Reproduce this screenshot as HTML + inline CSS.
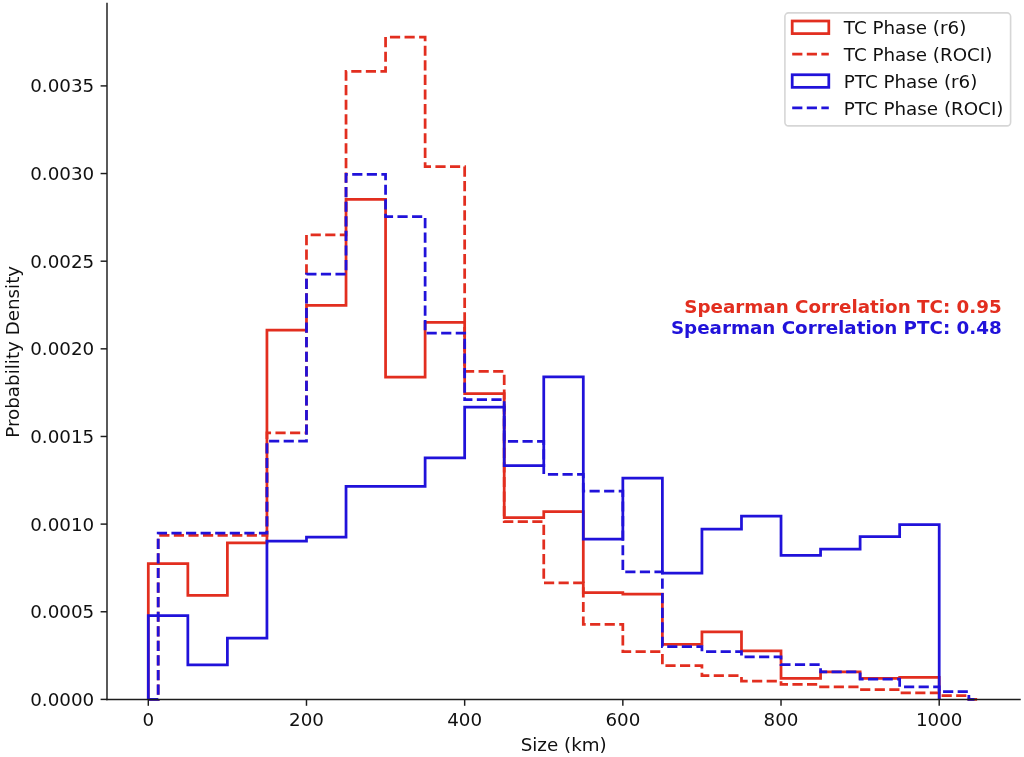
<!DOCTYPE html>
<html lang="en">
<head>
<meta charset="utf-8">
<title>Size distribution: TC vs PTC phase</title>
<style>
html, body { margin: 0; padding: 0; background: #ffffff; }
body { width: 1024px; height: 757px; overflow: hidden; font-family: "DejaVu Sans", "Liberation Sans", sans-serif; }
svg { display: block; }
</style>
</head>
<body>
<svg width="1024" height="757" viewBox="0 0 1024 757">
<rect width="1024" height="757" fill="#ffffff"/>
<g fill="none" stroke-linejoin="miter" stroke-linecap="butt" stroke-width="2.75">
<path d="M148.30,699.40 L148.30,563.70 L187.85,563.70 L187.85,595.30 L227.39,595.30 L227.39,542.80 L266.94,542.80 L266.94,330.20 L306.48,330.20 L306.48,305.30 L346.03,305.30 L346.03,199.40 L385.57,199.40 L385.57,377.10 L425.12,377.10 L425.12,322.30 L464.66,322.30 L464.66,393.50 L504.21,393.50 L504.21,517.50 L543.75,517.50 L543.75,511.70 L583.30,511.70 L583.30,592.70 L622.84,592.70 L622.84,594.20 L662.38,594.20 L662.38,644.40 L701.93,644.40 L701.93,631.90 L741.48,631.90 L741.48,650.80 L781.02,650.80 L781.02,678.40 L820.57,678.40 L820.57,671.80 L860.11,671.80 L860.11,678.40 L899.65,678.40 L899.65,677.30 L939.20,677.30 L939.20,699.40" stroke="#e22e1f"/>
<path d="M148.30,699.40 L158.19,699.40 L158.19,535.40 L266.94,535.40 L266.94,432.90 L306.48,432.90 L306.48,234.80 L346.03,234.80 L346.03,71.30 L385.57,71.30 L385.57,37.10 L425.12,37.10 L425.12,166.60 L464.66,166.60 L464.66,371.30 L504.21,371.30 L504.21,521.70 L543.75,521.70 L543.75,582.90 L583.30,582.90 L583.30,624.30 L622.84,624.30 L622.84,651.70 L662.38,651.70 L662.38,665.60 L701.93,665.60 L701.93,675.60 L741.48,675.60 L741.48,681.00 L781.02,681.00 L781.02,684.40 L820.57,684.40 L820.57,686.80 L860.11,686.80 L860.11,689.60 L899.65,689.60 L899.65,692.80 L939.20,692.80 L939.20,695.60 L968.86,695.60 L968.86,699.40 L978.75,699.40" stroke="#e22e1f" stroke-dasharray="10.18 4.40"/>
<path d="M148.30,699.40 L148.30,615.60 L187.85,615.60 L187.85,664.80 L227.39,664.80 L227.39,638.20 L266.94,638.20 L266.94,541.10 L306.48,541.10 L306.48,537.10 L346.03,537.10 L346.03,486.30 L385.57,486.30 L425.12,486.30 L425.12,457.90 L464.66,457.90 L464.66,407.10 L504.21,407.10 L504.21,465.50 L543.75,465.50 L543.75,376.90 L583.30,376.90 L583.30,539.00 L622.84,539.00 L622.84,478.20 L662.38,478.20 L662.38,573.00 L701.93,573.00 L701.93,529.00 L741.48,529.00 L741.48,516.20 L781.02,516.20 L781.02,555.30 L820.57,555.30 L820.57,549.10 L860.11,549.10 L860.11,536.50 L899.65,536.50 L899.65,524.50 L939.20,524.50 L939.20,699.40" stroke="#2012da"/>
<path d="M148.30,699.40 L158.19,699.40 L158.19,533.00 L266.94,533.00 L266.94,441.10 L306.48,441.10 L306.48,274.20 L346.03,274.20 L346.03,174.30 L385.57,174.30 L385.57,216.50 L425.12,216.50 L425.12,333.20 L464.66,333.20 L464.66,399.60 L504.21,399.60 L504.21,441.40 L543.75,441.40 L543.75,474.30 L583.30,474.30 L583.30,491.00 L622.84,491.00 L622.84,571.90 L662.38,571.90 L662.38,646.60 L701.93,646.60 L701.93,651.50 L741.48,651.50 L741.48,656.80 L781.02,656.80 L781.02,664.70 L820.57,664.70 L820.57,671.80 L860.11,671.80 L860.11,679.10 L899.65,679.10 L899.65,686.80 L939.20,686.80 L939.20,691.50 L968.86,691.50 L968.86,699.40 L978.75,699.40" stroke="#2012da" stroke-dasharray="10.18 4.40"/>
</g>
<g stroke="#1c1c1c" stroke-width="1.46" fill="none" stroke-linecap="square">
<line x1="107.0" y1="3.5" x2="107.0" y2="699.4"/>
<line x1="107.0" y1="699.4" x2="1020.0" y2="699.4"/>
</g>
<g stroke="#1c1c1c" stroke-width="1.46" stroke-linecap="butt">
<line x1="148.30" y1="699.4" x2="148.30" y2="705.8"/>
<line x1="306.48" y1="699.4" x2="306.48" y2="705.8"/>
<line x1="464.66" y1="699.4" x2="464.66" y2="705.8"/>
<line x1="622.84" y1="699.4" x2="622.84" y2="705.8"/>
<line x1="781.02" y1="699.4" x2="781.02" y2="705.8"/>
<line x1="939.20" y1="699.4" x2="939.20" y2="705.8"/>
<line x1="100.6" y1="699.40" x2="107.0" y2="699.40"/>
<line x1="100.6" y1="611.76" x2="107.0" y2="611.76"/>
<line x1="100.6" y1="524.11" x2="107.0" y2="524.11"/>
<line x1="100.6" y1="436.47" x2="107.0" y2="436.47"/>
<line x1="100.6" y1="348.83" x2="107.0" y2="348.83"/>
<line x1="100.6" y1="261.19" x2="107.0" y2="261.19"/>
<line x1="100.6" y1="173.54" x2="107.0" y2="173.54"/>
<line x1="100.6" y1="85.90" x2="107.0" y2="85.90"/>
</g>
<g font-family="'DejaVu Sans', 'Liberation Sans', sans-serif" font-size="18.3px" fill="#101010">
<text x="148.30" y="725.8" text-anchor="middle">0</text>
<text x="306.48" y="725.8" text-anchor="middle">200</text>
<text x="464.66" y="725.8" text-anchor="middle">400</text>
<text x="622.84" y="725.8" text-anchor="middle">600</text>
<text x="781.02" y="725.8" text-anchor="middle">800</text>
<text x="939.20" y="725.8" text-anchor="middle">1000</text>
<text x="94.20" y="705.80" text-anchor="end">0.0000</text>
<text x="94.20" y="618.16" text-anchor="end">0.0005</text>
<text x="94.20" y="530.51" text-anchor="end">0.0010</text>
<text x="94.20" y="442.87" text-anchor="end">0.0015</text>
<text x="94.20" y="355.23" text-anchor="end">0.0020</text>
<text x="94.20" y="267.59" text-anchor="end">0.0025</text>
<text x="94.20" y="179.94" text-anchor="end">0.0030</text>
<text x="94.20" y="92.30" text-anchor="end">0.0035</text>
<text x="563.7" y="751.0" text-anchor="middle">Size (km)</text>
<text transform="translate(18.9,351.8) rotate(-90)" text-anchor="middle">Probability Density</text>
</g>
<g font-family="'DejaVu Sans', 'Liberation Sans', sans-serif" font-size="18.3px" font-weight="bold" text-anchor="end">
<text x="1001.7" y="313.0" fill="#e22e1f">Spearman Correlation TC: 0.95</text>
<text x="1001.7" y="333.6" fill="#2012da">Spearman Correlation PTC: 0.48</text>
</g>
<rect x="784.9" y="12.9" width="225.7" height="113.0" rx="3.6" ry="3.6" fill="#ffffff" fill-opacity="0.8" stroke="#cccccc" stroke-opacity="0.8" stroke-width="1.6"/>
<g fill="none" stroke-width="2.75">
<rect x="792.2" y="21.00" width="36.60" height="12.6" stroke="#e22e1f"/>
<line x1="792.2" y1="54.15" x2="828.8" y2="54.15" stroke="#e22e1f" stroke-dasharray="10.18 4.40"/>
<rect x="792.2" y="74.75" width="36.60" height="12.6" stroke="#2012da"/>
<line x1="792.2" y1="107.9" x2="828.8" y2="107.9" stroke="#2012da" stroke-dasharray="10.18 4.40"/>
</g>
<g font-family="'DejaVu Sans', 'Liberation Sans', sans-serif" font-size="18.3px" fill="#101010">
<text x="843.8" y="34.20">TC Phase (r6)</text>
<text x="843.8" y="61.05">TC Phase (ROCI)</text>
<text x="843.8" y="87.95">PTC Phase (r6)</text>
<text x="843.8" y="114.80">PTC Phase (ROCI)</text>
</g>
</svg>
</body>
</html>
